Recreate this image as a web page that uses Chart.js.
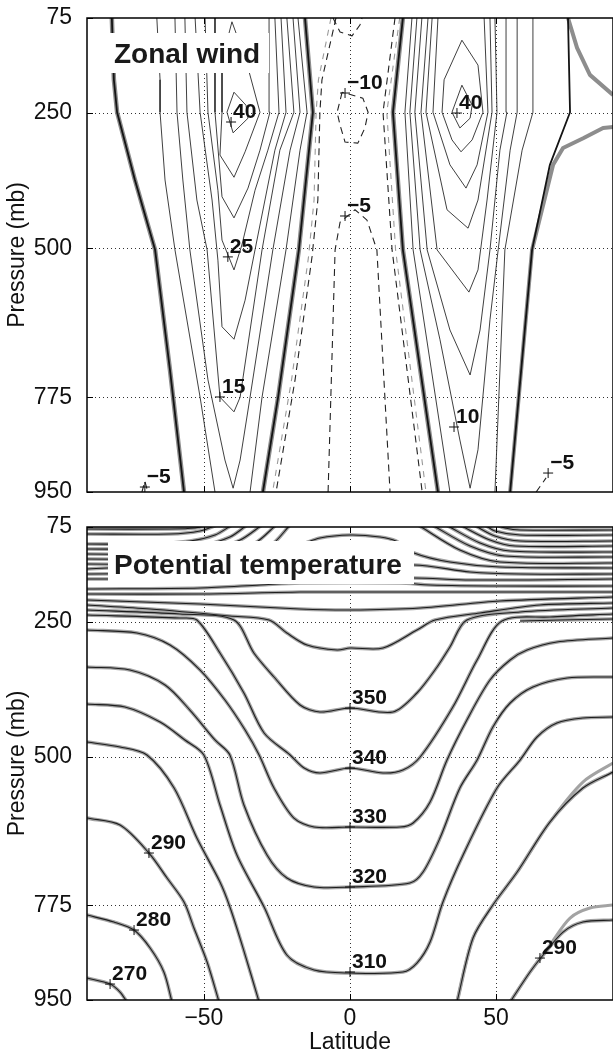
<!DOCTYPE html>
<html><head><meta charset="utf-8">
<script src="https://cdn.jsdelivr.net/npm/chart.js@4.4.1/dist/chart.umd.min.js"></script>
<style>
html,body{margin:0;padding:0;background:#fff;overflow:hidden;width:613px;height:1056px;}
#w1{position:absolute;left:0;top:0;width:640px;height:505px;}
#w2{position:absolute;left:0;top:505px;width:640px;height:551px;}
</style></head><body>
<div id="w1"><canvas id="c1" width="640" height="505"></canvas></div>
<div id="w2"><canvas id="c2" width="640" height="551"></canvas></div>
<script>
// ---------- axes ----------
const latTicks = [-50, 0, 50];
const pTicks = [75, 250, 500, 775, 950];

// ---------- Zonal wind contours: [latitude, pressure(mb)] ----------
const u0_sa = [[-81.5,75],[-80.8,189],[-79.7,249],[-73.6,374],[-66.7,503],[-61.6,725],[-56.8,950]];
const u0_sb = [[-15.4,75],[-12.7,249],[-17.5,503],[-24.6,775],[-29.8,950]];
const u0_na = [[18.1,75],[14.7,249],[18.1,503],[30.1,950]];
const u0_nb = [[74.6,75],[75.3,249],[68.4,346],[62.3,503],[54.8,950]];
const u0_nb_g1 = [[74.6,75],[77.7,130],[82.1,180],[90,217]];
const u0_nb_g2 = [[90,276],[86.6,278],[79.8,297],[72.9,315],[69.5,346],[62.3,503],[54.8,950]];

const u5_sa = [[-66.1,75],[-65.0,189],[-65.0,249],[-63.3,374],[-59.9,503],[-51.3,775],[-46.2,950]];
const u5_sb = [[-34.2,950],[-30.1,775],[-21.9,503],[-17.1,319],[-14.7,249],[-17.8,75]];
const u10_s = [[-59.9,75],[-59.2,249],[-57.2,374],[-54.8,503],[-48.6,743],[-42.8,891],[-40.0,943],[-37.6,891],[-34.2,775],[-26.4,503],[-20.5,319],[-17.1,249],[-19.5,75]];
const u15_s = [[-56.5,75],[-55.8,249],[-52.4,411],[-48.9,503],[-44.5,775],[-39.7,802],[-37.6,775],[-30.1,503],[-24.0,319],[-19.2,249],[-21.6,75]];
const u20_s = [[-53.0,75],[-51.3,249],[-47.2,411],[-45.2,522],[-43.8,645],[-39.7,668],[-35.9,596],[-32.5,503],[-25.7,319],[-21.9,249],[-23.6,75]];
const u25_s = [[-49.6,75],[-48.6,249],[-45.2,393],[-43.8,485],[-39.7,540],[-37.0,494],[-32.5,393],[-28.1,319],[-24.3,249],[-25.7,75]];
const u30_s = [[-46.2,75],[-46.2,249],[-43.8,405],[-39.7,444],[-34.9,389],[-30.8,319],[-27.4,249],[-27.7,75]];
const u35_s = [[-40.4,82],[-43.8,153],[-43.8,249],[-44.5,328],[-39.7,369],[-35.9,322],[-30.8,249],[-35.6,153],[-40.4,82]];
const u40_s = [[-39.7,212],[-42.1,249],[-40.0,287],[-34.9,260],[-35.6,236],[-39.7,212]];

const u5_na = [[21.2,75],[18.8,249],[21.6,503],[34.2,950]];
const u5_nb = [[49.6,950],[53.0,503],[58.9,319],[62.6,249],[62.6,75]];
const u10_n = [[22.9,75],[20.5,249],[24.0,503],[30.8,669],[37.6,854],[41.1,943],[43.8,872],[47.9,632],[50.7,503],[54.8,319],[57.2,249],[57.2,75]];
const u15_n = [[24.6,75],[22.2,249],[26.4,503],[34.2,651],[41.1,734],[44.5,651],[47.9,503],[51.3,319],[53.7,249],[53.4,75]];
const u20_n = [[26.7,75],[24.3,249],[29.8,503],[40.7,581],[43.8,540],[46.9,411],[50.3,249],[49.6,75]];
const u25_n = [[28.1,75],[26.0,249],[33.2,429],[40.4,463],[43.8,411],[48.6,249],[47.9,75]];
const u30_n = [[30.1,75],[28.4,249],[34.2,346],[39.7,389],[43.5,346],[47.2,249],[45.9,75]];
const u35_n = [[38.3,116],[32.2,189],[31.5,249],[34.9,300],[38.0,322],[41.8,300],[45.5,249],[43.8,162],[38.3,116]];
const u40_n = [[38.3,199],[34.9,249],[37.6,278],[41.1,260],[41.8,236],[38.3,199]];

// negative (easterly) contours, dashed
const um5_w = [[-4.8,75],[-9.6,189],[-10.3,249],[-11.0,411],[-13.0,516],[-18.8,743],[-25.3,950]];
const um5_w2 = [[-6.5,75],[-10.8,189],[-11.6,249],[-12.3,411],[-14.2,516],[-20.0,743],[-26.5,950]];
const um5_c = [[-7.5,950],[-5.1,503],[-3.4,452],[1.7,429],[5.8,448],[9.2,503],[13.7,950]];
const um5_e = [[15.4,75],[11.3,249],[14.4,503],[24.7,950]];
const um5_e2 = [[17.0,75],[12.6,249],[15.6,503],[26.0,950]];
const um10_top = [[-5.8,75],[-3.4,101],[0.7,108],[3.4,88],[4.1,75]];
const um10_loop = [[-2.7,212],[-4.4,249],[-3.4,273],[-1.7,304],[2.7,306],[5.1,278],[6.2,249],[4.4,223],[-2.7,212]];
const um5_sw = [[-71.2,950],[-70.2,930],[-69.2,950]];
const um5_se = [[63.7,950],[67.1,924]];

const windLabelText = ['\u221210','40','40','\u22125','25','15','10','\u22125','\u22125'];
const windLabelLat = [-1.7,-40.7,36.6,-1.7,-41.8,-44.5,35.6,-70.2,67.8];
const windLabelP = [213.5,267,250.4,440.5,516,774.6,830,940.8,915];

// ---------- Potential temperature contours ----------
const sT1 = [[-90,78.7],[-61.6,78.7],[-53,76.9],[-48.9,71.3]];
const sT2 = [[-90,88],[-61.6,88],[-51.3,82.4],[-45.5,71.3]];
const sT3 = [[-90,106.5],[-68.4,106.5],[-54.8,100.9],[-46.2,89.8],[-40.4,71.3]];
const sT4 = [[-90,115.7],[-65,115.7],[-51.3,110.2],[-41.1,93.5],[-35.2,71.3]];
const sT5 = [[-90,125],[-61.6,125],[-47.9,117.6],[-37.6,99.1],[-30.1,71.3]];
const sT6 = [[-90,134.2],[-58.2,134.2],[-44.5,126.8],[-32.5,104.6],[-25.3,71.3]];
const sT7 = [[-90,143.5],[-54.8,143.5],[-39.4,134.2],[-27.4,110.2],[-20.5,71.3]];
const sM1 = [[-90,152.7],[-34.2,136.1],[-17.1,108.3],[-10.3,95.4],[0,89.8],[10.3,93.5],[15.7,100.9],[21.9,123.1],[34.2,139.8],[51.3,149],[90,150.9]];
const sM2 = [[-90,162],[-34.2,158.3],[21.9,145.3],[41.1,158.3],[58.2,162],[90,162]];
const sM3 = [[-90,171.2],[-34.2,171.2],[21.9,169.4],[41.1,173.1],[90,171.2]];
const sR1 = [[90,80.6],[58.2,80.6],[53,76.9],[50.3,71.3]];
const sR2 = [[90,89.8],[58.2,89.8],[49.6,82.4],[46.2,71.3]];
const sR3 = [[90,100.9],[58.2,100.9],[49.6,91.7],[42.4,71.3]];
const sR4 = [[90,110.2],[56.5,110.2],[47.9,99.1],[37.6,71.3]];
const sR5 = [[90,121.3],[54.8,119.4],[44.5,104.6],[32.9,71.3]];
const sR6 = [[90,130.5],[53,128.7],[41.1,110.2],[28.1,71.3]];
const sR7 = [[90,141.6],[51.3,139.8],[37.6,117.6],[23.3,71.3]];
const sC = [[-90,189.7],[-51.3,187.9],[-30.8,182.3],[-17.1,178.6],[17.1,178.6],[27.4,182.3],[51.3,184.2],[90,184.2]];
const sA = [[-90,199],[-51.3,199],[-17.1,195.3],[0,195.3],[34.2,195.3],[90,195.3]];
const sB = [[-90,210.1],[-51.3,217.5],[-17.1,226.7],[0,228.6],[24,224.9],[51.3,211.9],[90,204.5]];
const th360 = [[-90,219.3],[-68.4,226.7],[-41.1,239.7],[-27.7,247.1],[-21.6,271.1],[-14.7,293.3],[-4.4,302.6],[0,298.9],[11.3,298.9],[22.9,265.6],[29.1,247.1],[44.5,234.1],[65,219.3],[90,215.6]];
const th350 = [[-90,228.6],[-58.2,236],[-39.7,247.1],[-32.9,308.1],[-26,352.5],[-17.1,404.3],[-10.3,417.3],[0,409.9],[14.7,417.3],[22.9,382.1],[29.8,334],[34.2,297],[40,247.1],[58.2,232.3],[90,224.9]];
const th340 = [[-90,237.8],[-58.2,243.4],[-52.4,247.1],[-44.5,308.1],[-36.3,382.1],[-29.4,456.1],[-20.5,496.8],[-15.7,520.9],[-10.3,530.1],[0,520.9],[11.3,530.1],[18.1,524.6],[24,500.5],[35.2,408],[43.5,321],[52,248.9],[68.4,241.5],[90,236]];
const sH = [[90,245.2],[71.9,247.1],[58.2,248.9]];
const th330 = [[-90,265.6],[-72.9,271.1],[-61.6,293.3],[-51.3,339.6],[-42.8,395.1],[-35.9,450.6],[-31.1,496.8],[-26,557.9],[-19.2,613.4],[-12.3,630],[0,630],[17.1,630],[21.6,622.6],[27.4,583.8],[33.2,506.1],[40,432],[47.9,358.1],[54.8,321],[60.6,302.6],[70.8,287.8],[90,280.4]];
const th320 = [[-90,334],[-75.3,339.6],[-63.3,367.3],[-54.8,413.6],[-46.2,469],[-41.1,496.8],[-36.3,589.3],[-28.4,681.8],[-21.6,724.4],[-12.3,741],[0,741],[20.5,733.6],[25,713.3],[30.8,650.4],[37.6,557.9],[43.5,506.1],[48.9,445],[54.8,400.6],[62.6,371],[74.3,354.4],[90,352.5]];
const th310 = [[-90,402.5],[-77,408],[-65,435.8],[-56.5,469],[-50,496.8],[-44.5,589.3],[-38.7,681.8],[-29.4,778],[-21.6,866.8],[-12.3,894.6],[0,900.1],[18.1,898.3],[22.9,881.7],[27.4,842.8],[31.8,768.8],[38.7,681.8],[50.3,557.9],[58.2,506.1],[64,463.5],[70.8,437.6],[79.7,428.4],[90,426.5]];
const th300_s = [[-90,472.8],[-78.7,482],[-69.5,496.8],[-60.2,557.9],[-52.4,650.4],[-44.5,731.8],[-41.1,778],[-36.6,853.9],[-31.1,953.7]];
const th300_n = [[36.6,953.7],[42.1,835.4],[48.9,774.3],[57.2,713.3],[68.4,620.8],[79.7,557.9],[90,528.3]];
const th300_n_g = [[36.6,953.7],[42.1,835.4],[48.9,774.3],[57.2,713.3],[68.4,620.8],[79.7,546.8],[90,511.6]];
const th290_s = [[-90,613.4],[-78.7,626.3],[-68.8,678.1],[-62.6,724.4],[-56.8,768.8],[-53.4,816.9],[-48.9,879.8],[-44.8,953.7]];
const th290_n = [[54.8,953.7],[61.6,898.3],[66.1,866.8],[72.9,824.3],[79.7,805.8],[90,802.1]];
const th290_n_g = [[54.8,953.7],[61.6,898.3],[68.4,848.3],[75.3,798.4],[82.1,779.9],[90,774.3]];
const th280 = [[-90,792.8],[-80.8,805.8],[-73.9,820.6],[-68.4,853.9],[-63.7,898.3],[-60.9,953.7]];
const th270 = [[-90,909.4],[-82.1,920.5],[-78.7,935.3],[-76.3,953.7]];

const thetaLabelText = ['350','340','330','320','310','290','280','270','290'];
const thetaLabelLat = [0,0,0,0,0,-68.8,-73.9,-82.1,65];
const thetaLabelP = [409.9,520.9,630,741,898.3,678.1,820.6,920.5,872.4];

// ---------- helpers ----------
const FONT = "'Liberation Sans', Arial, Helvetica, sans-serif";
Chart.defaults.font.family = FONT;
Chart.defaults.color = '#111';

function ds(pts, color, w, dash, tension, order){
  return {data: pts.map(p => ({x:p[0], y:p[1]})), borderColor: color, borderWidth: w,
    borderDash: dash || [], pointRadius: 0, pointHoverRadius: 0, showLine: true, fill: false,
    tension: tension || 0, order: order || 1, borderJoinStyle: 'round', borderCapStyle: 'butt'};
}

function scales(showX){
  return {
    x: {type:'linear', min:-90, max:90,
      afterBuildTicks: s => { s.ticks = latTicks.map(v => ({value:v})); },
      afterFit: s => { s.height = showX ? 56 : 0; s.paddingLeft = 0; s.paddingRight = 0; },
      grid:{display:false, drawTicks:false}, border:{display:false},
      ticks:{display:showX, font:{size:23}, color:'#111', padding:5, maxRotation:0, autoSkip:false,
        callback: v => v < 0 ? '\u2212' + Math.abs(v) : String(v)},
      title:{display:showX, text:'Latitude', font:{size:23}, color:'#111', padding:{top:0, bottom:0}}},
    y: {type:'linear', reverse:true, min:75, max:950,
      afterBuildTicks: s => { s.ticks = pTicks.map(v => ({value:v})); },
      afterFit: s => { s.width = 87; s.paddingTop = 0; s.paddingBottom = 0; },
      grid:{display:false, drawTicks:false}, border:{display:false},
      ticks:{font:{size:23}, color:'#111', padding:15, autoSkip:false, callback: v => String(v)},
      title:{display:true, text:'Pressure (mb)', font:{size:23}, color:'#111', padding:{top:4, bottom:0}}}
  };
}

function makeDeco(cfg){
  return {
    id: 'deco',
    beforeDatasetsDraw(chart){
      const {ctx, chartArea:a, scales:{x, y}} = chart;
      ctx.save();
      ctx.strokeStyle = '#333'; ctx.lineWidth = 1; ctx.setLineDash([1, 3]);
      latTicks.forEach(v => { const px = Math.round(x.getPixelForValue(v)) + 0.5;
        ctx.beginPath(); ctx.moveTo(px, a.top); ctx.lineTo(px, a.bottom); ctx.stroke(); });
      pTicks.slice(1, -1).forEach(v => { const py = Math.round(y.getPixelForValue(v)) + 0.5;
        ctx.beginPath(); ctx.moveTo(a.left, py); ctx.lineTo(a.right, py); ctx.stroke(); });
      ctx.restore();
    },
    afterDatasetsDraw(chart){
      const {ctx, chartArea:a, scales:{x, y}} = chart;
      ctx.save();
      ctx.font = 'bold 21px ' + FONT; ctx.textBaseline = 'alphabetic'; ctx.textAlign = 'left';
      ctx.fillStyle = '#111'; ctx.strokeStyle = '#111'; ctx.lineWidth = 1;
      cfg.text.forEach((t, i) => {
        const px = x.getPixelForValue(cfg.lat[i]), py = y.getPixelForValue(cfg.p[i]);
        ctx.beginPath(); ctx.moveTo(px - 5, py); ctx.lineTo(px + 5, py);
        ctx.moveTo(px, py - 5); ctx.lineTo(px, py + 5); ctx.stroke();
        ctx.fillText(t, px + 2, py - 4);
      });
      const b = cfg.box;
      ctx.fillStyle = '#fff'; ctx.fillRect(a.left + b[0], a.top + b[1], b[2], b[3]);
      ctx.fillStyle = '#1a1a1a'; ctx.font = 'bold 28px ' + FONT;
      ctx.fillText(cfg.title, a.left + cfg.tpos[0], a.top + cfg.tpos[1]);
      ctx.strokeStyle = '#000'; ctx.lineWidth = 1.5;
      ctx.strokeRect(a.left, a.top, a.right - a.left, a.bottom - a.top);
      ctx.lineWidth = 1;
      latTicks.forEach(v => { const px = Math.round(x.getPixelForValue(v)) + 0.5;
        ctx.beginPath(); ctx.moveTo(px, a.bottom); ctx.lineTo(px, a.bottom - 6);
        ctx.moveTo(px, a.top); ctx.lineTo(px, a.top + 6); ctx.stroke(); });
      pTicks.forEach(v => { const py = Math.round(y.getPixelForValue(v)) + 0.5;
        ctx.beginPath(); ctx.moveTo(a.left, py); ctx.lineTo(a.left + 6, py); ctx.stroke(); });
      ctx.restore();
    }
  };
}

function options(showX, pad){
  return {responsive:false, maintainAspectRatio:false, animation:false, devicePixelRatio:1, events:[],
    layout:{padding:pad},
    plugins:{legend:{display:false}, tooltip:{enabled:false}, title:{display:false}},
    scales: scales(showX)};
}

// ---------- wind chart ----------
const GRAY = '#8d8d8d', BLACK = '#141414';
const windSets = [];
[u0_sa, u0_sb, u0_na].forEach(c => { windSets.push(ds(c, GRAY, 4.5, null, 0, 3)); windSets.push(ds(c, BLACK, 1.8, null, 0, 1)); });
windSets.push(ds(u0_nb, BLACK, 1.8, null, 0, 1));
windSets.push(ds(u0_nb_g1, GRAY, 4, null, 0, 3));
windSets.push(ds(u0_nb_g2, GRAY, 4, null, 0, 3));
[u5_sa,u5_sb,u10_s,u15_s,u20_s,u25_s,u30_s,u35_s,u40_s,u5_na,u5_nb,u10_n,u15_n,u20_n,u25_n,u30_n,u35_n,u40_n]
  .forEach(c => windSets.push(ds(c, '#2a2a2a', 0.9, null, 0, 2)));
[um5_w, um5_c, um5_e, um10_top, um10_loop, um5_sw, um5_se]
  .forEach(c => windSets.push(ds(c, '#222', 1.1, [7, 5], 0, 2)));
[um5_w2, um5_e2].forEach(c => windSets.push(ds(c, '#9a9a9a', 1.1, [6, 6], 0, 2)));

new Chart(document.getElementById('c1'), {
  type: 'scatter',
  data: {datasets: windSets},
  options: options(false, {top:18, right:27, bottom:13, left:0}),
  plugins: [makeDeco({text:windLabelText, lat:windLabelLat, p:windLabelP, title:'Zonal wind',
    box:[23, 15, 159, 40], tpos:[27, 45]})]
});

// ---------- theta chart ----------
const thetaSets = [];
const TG = '#a3a3a3', TB = '#1e1e1e';
[sT1,sT2,sT3,sT4,sT5,sT6,sT7,sM1,sM2,sM3,sR1,sR2,sR3,sR4,sR5,sR6,sR7,sC,sA,sB,th360,th350,th340,sH,
 th330,th320,th310,th300_s,th300_n,th290_s,th290_n,th280,th270]
  .forEach(c => { thetaSets.push(ds(c, TG, 3.6, null, 0.3, 3)); thetaSets.push(ds(c, TB, 1.1, null, 0.3, 1)); });
thetaSets.push(ds(th300_n_g, TG, 3, null, 0.3, 2));
thetaSets.push(ds(th290_n_g, TG, 3, null, 0.3, 2));

new Chart(document.getElementById('c2'), {
  type: 'scatter',
  data: {datasets: thetaSets},
  options: options(true, {top:22, right:27, bottom:0, left:0}),
  plugins: [makeDeco({text:thetaLabelText, lat:thetaLabelLat, p:thetaLabelP, title:'Potential temperature',
    box:[21, 14, 306, 43], tpos:[27, 47]})]
});
</script>
</body></html>
